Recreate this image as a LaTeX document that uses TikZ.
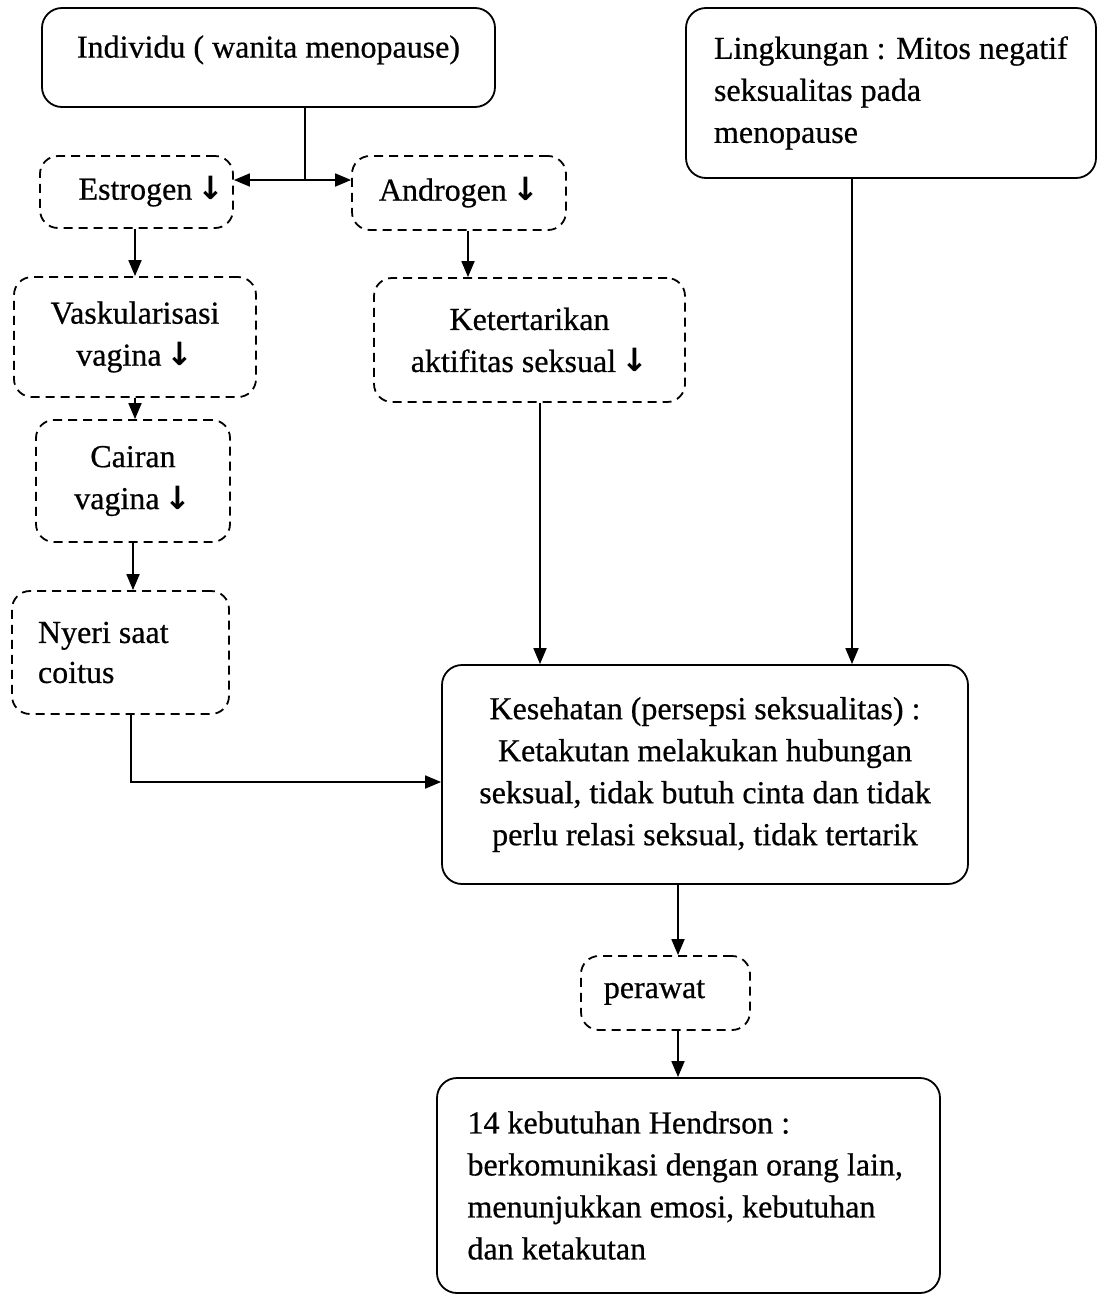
\documentclass[tikz,border=0pt]{standalone}
\usepackage{fontspec}
\setmainfont{Liberation Serif}[FakeBold=0.6]
\newfontfamily\symfont{DejaVu Sans}
\usetikzlibrary{arrows.meta}
\newcommand{\dnarr}{\,{\symfont\bfseries ↓}}
\begin{document}
\begin{tikzpicture}[x=1pt,y=-1pt,
  every node/.style={font=\fontsize{32}{42}\selectfont, inner sep=0pt},
  solidbox/.style={draw, line width=1.8pt, rounded corners=20pt},
  dashbox/.style={draw, line width=1.8pt, rounded corners=18pt, dash pattern=on 9pt off 6pt},
  arr/.style={line width=1.8pt, -{Triangle[length=16pt,width=13pt]}},
  conn/.style={line width=1.8pt}]
\path[use as bounding box] (0,0) rectangle (1104,1296);

\node[solidbox, minimum width=453pt, minimum height=99pt, text depth=22pt] (ind) at (268.5,57.5) {Individu ( wanita menopause)};
\node[solidbox, minimum width=410pt, minimum height=170pt, text width=354pt, align=flush left] (lin) at (891,93) {Lingkungan : Mitos negatif\\seksualitas pada\\menopause};
\node[dashbox, minimum width=193pt, minimum height=72pt, text depth=8pt] (est) at (136.5,192) {\hspace*{30pt}Estrogen\dnarr};
\node[dashbox, minimum width=214pt, minimum height=74pt, text depth=8pt] (and) at (459,193) {Androgen\dnarr};
\node[dashbox, minimum width=242pt, minimum height=120pt, align=center] (vas) at (135,337) {Vaskularisasi\\vagina\dnarr};
\node[dashbox, minimum width=311pt, minimum height=124pt, align=center] (ket) at (529.5,340) {Ketertarikan\\aktifitas seksual\dnarr};
\node[dashbox, minimum width=194pt, minimum height=122pt, align=center] (cai) at (133,481) {Cairan\\vagina\dnarr};
\node[dashbox, minimum width=217pt, minimum height=123pt, text width=165pt, align=flush left, font=\fontsize{32}{40}\selectfont] (nye) at (120.5,652.5) {Nyeri saat\\coitus};
\node[solidbox, minimum width=526pt, minimum height=219pt, align=center] (kes) at (705,774.5) {Kesehatan (persepsi seksualitas) :\\Ketakutan melakukan hubungan\\seksual, tidak butuh cinta dan tidak\\perlu relasi seksual, tidak tertarik};
\node[dashbox, minimum width=169pt, minimum height=74pt, text depth=8pt] (per) at (665.5,993) {perawat\hspace*{22pt}};
\node[solidbox, minimum width=503pt, minimum height=215pt, text width=442pt, align=flush left] (keb) at (688.5,1185.5) {14 kebutuhan Hendrson :\\berkomunikasi dengan orang lain,\\menunjukkan emosi, kebutuhan\\dan ketakutan};

\coordinate (j) at (305,180);
\draw[conn] ([xshift=36.5pt]ind.south) -- (j);
\draw[line width=1.8pt, {Triangle[length=16pt,width=13pt]}-{Triangle[length=16pt,width=13pt]}] (est.east |- j) -- (and.west |- j);
\draw[arr] ([xshift=-1.5pt]est.south) -- ([xshift=-1.5pt]est.south |- vas.north);
\draw[arr] ([xshift=9pt]and.south) -- ([xshift=9pt]and.south |- ket.north);
\draw[arr] (vas.south) -- (vas.south |- cai.north);
\draw[arr] (cai.south) -- (cai.south |- nye.north);
\draw[arr] ([xshift=10.5pt]ket.south) -- ([xshift=10.5pt]ket.south |- kes.north);
\draw[arr] ([xshift=-39pt]lin.south) -- ([xshift=-39pt]lin.south |- kes.north);
\coordinate (c) at (131,782);
\draw[arr] ([xshift=10.5pt]nye.south) -- (c) -- (c -| kes.west);
\draw[arr] ([xshift=-27pt]kes.south) -- ([xshift=-27pt]kes.south |- per.north);
\draw[arr] ([xshift=12.5pt]per.south) -- ([xshift=12.5pt]per.south |- keb.north);
\end{tikzpicture}
\end{document}
